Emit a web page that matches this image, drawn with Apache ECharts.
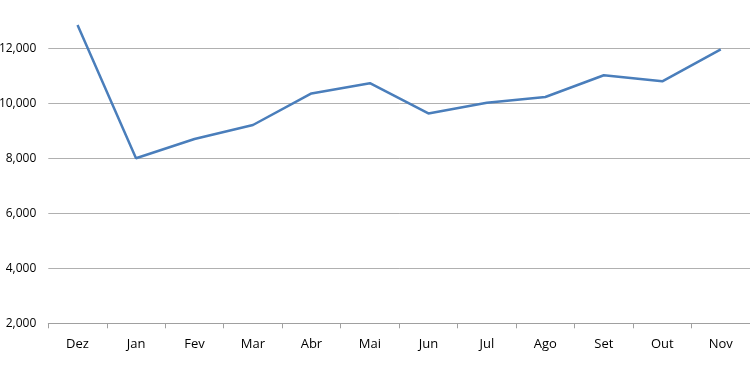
<!DOCTYPE html>
<html><head><meta charset="utf-8">
<script src="https://cdn.jsdelivr.net/npm/echarts@6/dist/echarts.min.js"></script>
<style>html,body{margin:0;padding:0;background:#fff}#c{width:750px;height:375px}</style>
</head><body><div id="c"></div>
<script>
var categories = ['Dez','Jan','Fev','Mar','Abr','Mai','Jun','Jul','Ago','Set','Out','Nov'];
var values = [12850, 8000, 8700, 9210, 10360, 10730, 9630, 10020, 10230, 11020, 10800, 11960];
var chart = echarts.init(document.getElementById('c'));
chart.setOption({
  animation: false,
  grid: {left: 48.3, right: 0, top: -6.7, bottom: 51.7, containLabel: false, outerBoundsMode: 'none'},
  xAxis: {
    type: 'category', data: categories, boundaryGap: true,
    axisLine: {lineStyle: {color: '#a0a0a0', width: 1}},
    axisTick: {show: true, length: 5, lineStyle: {color: '#a0a0a0'}},
    axisLabel: {color: '#000', fontFamily: 'Open Sans', fontSize: 13, margin: 14}
  },
  yAxis: {
    type: 'value', min: 2000, max: 14000, interval: 2000,
    axisLine: {show: false}, axisTick: {show: false},
    splitLine: {lineStyle: {color: '#b0b0b0', width: 1}},
    axisLabel: {color: '#000', fontFamily: 'Open Sans', fontSize: 12, margin: 12,
      formatter: function(v){return v.toLocaleString('en-US');}}
  },
  series: [{type: 'line', data: values, symbol: 'none',
    lineStyle: {color: '#4a7ebb', width: 2.5}}]
});
</script></body></html>
